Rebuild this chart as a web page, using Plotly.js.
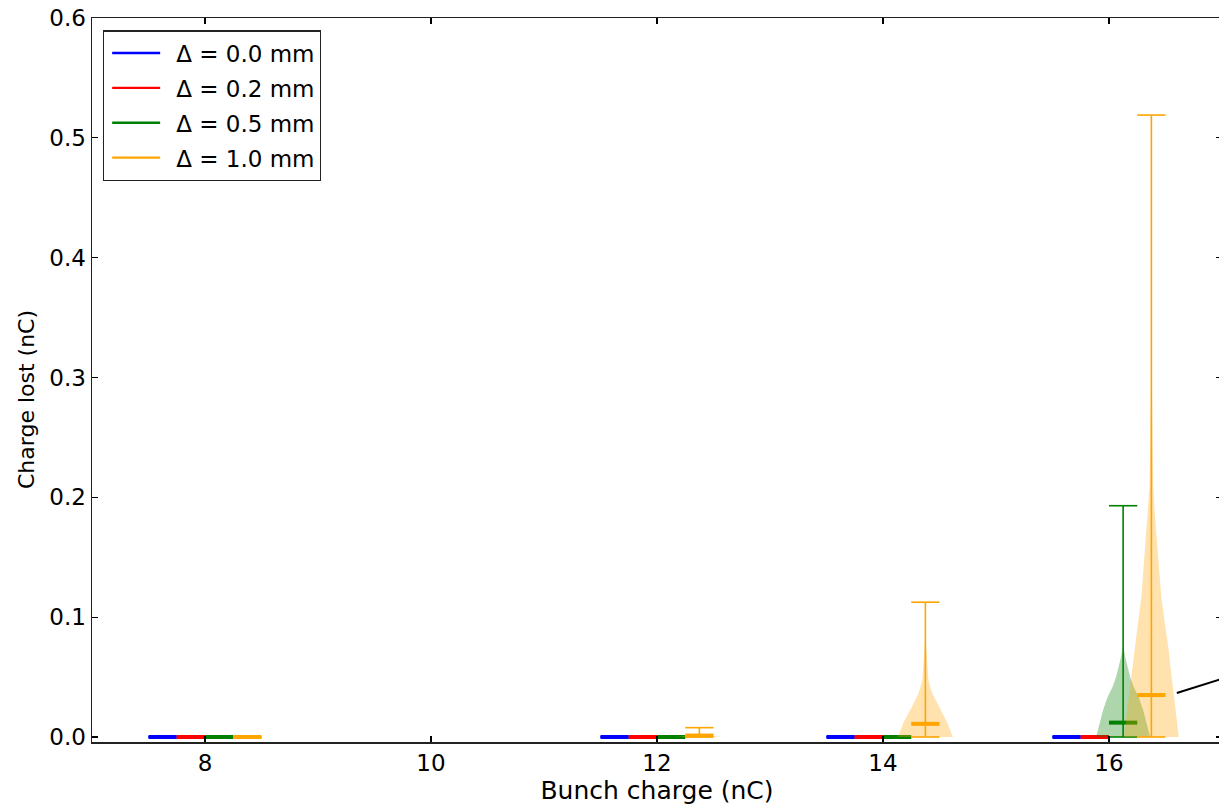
<!DOCTYPE html>
<html>
<head>
<meta charset="utf-8">
<script src="https://cdn.plot.ly/plotly-3.0.1.min.js"></script>
<style>
html, body { margin: 0; padding: 0; overflow: hidden; background: #fff; }
#chart { width: 1240px; height: 805px; }
</style>
</head>
<body>
<div id="chart"></div>
<script>
// ---------------- data ----------------
const categories = [8, 10, 12, 14, 16];            // bunch charge (nC)
const deltaLabels = ['Δ = 0.0 mm', 'Δ = 0.2 mm', 'Δ = 0.5 mm', 'Δ = 1.0 mm'];

// charge lost statistics (nC); null = no data at that bunch charge
const min_d00 = [0, null, 0, 0, 0];
const median_d00 = [0, null, 0, 0, 0];
const max_d00 = [0, null, 0, 0, 0];

const min_d02 = [0, null, 0, 0, 0];
const median_d02 = [0, null, 0, 0, 0];
const max_d02 = [0, null, 0, 0, 0];

const min_d05 = [0, null, 0, 0, 0];
const median_d05 = [0, null, 0, 0, 0.012];
const max_d05 = [0, null, 0, 0, 0.193];

const min_d10 = [0, null, 0, 0, 0];
const median_d10 = [0, null, 0.0012, 0.011, 0.035];
const max_d10 = [0, null, 0.0078, 0.1125, 0.519];

// violin density profiles (charge lost level, half-width in bunch-charge units)
const kde_y_d10_12 = [0, 0.001, 0.002, 0.003];
const kde_w_d10_12 = [0.21, 0.10, 0.035, 0.005];

const kde_y_d10_14 = [0, 0.0117, 0.025, 0.037, 0.0475, 0.064, 0.08];
const kde_w_d10_14 = [0.243, 0.195, 0.12, 0.058, 0.027, 0.013, 0.004];

const kde_y_d05_16 = [0, 0.011, 0.0225, 0.033, 0.042, 0.05, 0.058, 0.067, 0.075];
const kde_w_d05_16 = [0.239, 0.212, 0.177, 0.139, 0.093, 0.062, 0.04, 0.018, 0.004];

const kde_y_d10_16 = [0, 0.02, 0.037, 0.055, 0.075, 0.095, 0.117, 0.138, 0.158, 0.175, 0.19, 0.21, 0.25, 0.3, 0.35];
const kde_w_d10_16 = [0.243, 0.217, 0.195, 0.173, 0.15, 0.119, 0.088, 0.071, 0.053, 0.04, 0.027, 0.016, 0.009, 0.004, 0.002];

// ---------------- styling ----------------
const colors = ['#0000ff', '#ff0000', '#008000', '#ffa500'];
const fills = ['rgba(0,0,255,0.3)', 'rgba(255,0,0,0.3)', 'rgba(0,128,0,0.32)', 'rgba(255,165,0,0.32)'];
const offsets = [-0.375, -0.125, 0.125, 0.375];
const capHalf = 0.125;

const stats = [
  {min: min_d00, med: median_d00, max: max_d00, kde: {}},
  {min: min_d02, med: median_d02, max: max_d02, kde: {}},
  {min: min_d05, med: median_d05, max: max_d05, kde: {16: [kde_y_d05_16, kde_w_d05_16]}},
  {min: min_d10, med: median_d10, max: max_d10, kde: {12: [kde_y_d10_12, kde_w_d10_12], 14: [kde_y_d10_14, kde_w_d10_14], 16: [kde_y_d10_16, kde_w_d10_16]}}
];

const traces = [];
stats.forEach((s, d) => {
  categories.forEach((c, i) => {
    const prof = s.kde[c];
    if (!prof) return;
    const pos = c + offsets[d];
    const ys = prof[0], ws = prof[1];
    const x = [], y = [];
    ys.forEach((yy, k) => { x.push(pos - ws[k]); y.push(yy); });
    for (let k = ys.length - 1; k >= 0; k--) { x.push(pos + ws[k]); y.push(ys[k]); }
    traces.push({type: 'scatter', mode: 'lines', x: x, y: y, fill: 'toself',
      fillcolor: fills[d], line: {width: 0}, hoverinfo: 'skip', showlegend: false});
  });
  const tx = [], ty = [];
  const mx = [], my = [];
  categories.forEach((c, i) => {
    if (s.med[i] === null) return;
    const pos = c + offsets[d];
    tx.push(pos, pos, null); ty.push(s.min[i], s.max[i], null);
    tx.push(pos - capHalf, pos + capHalf, null); ty.push(s.max[i], s.max[i], null);
    tx.push(pos - capHalf, pos + capHalf, null); ty.push(s.min[i], s.min[i], null);
    mx.push(pos - capHalf, pos + capHalf, null); my.push(s.med[i], s.med[i], null);
  });
  traces.push({type: 'scatter', mode: 'lines', x: tx, y: ty, line: {color: colors[d], width: 1.6},
    hoverinfo: 'skip', showlegend: false});
  traces.push({type: 'scatter', mode: 'lines', x: mx, y: my, line: {color: colors[d], width: 4},
    hoverinfo: 'skip', showlegend: false});
});
deltaLabels.forEach((lab, d) => {
  traces.push({type: 'scatter', mode: 'lines', x: [null], y: [null], name: lab,
    legendgroup: 'g' + d, line: {color: colors[d], width: 2.4}, showlegend: true});
});

const font = 'DejaVu Sans, sans-serif';
const layout = {
  width: 1240, height: 805,
  margin: {l: 92, r: 18, t: 18, b: 63},
  paper_bgcolor: '#fff', plot_bgcolor: '#fff',
  showlegend: true,
  legend: {x: 0.0097, y: 0.983, xanchor: 'left', yanchor: 'top',
    bgcolor: '#fff', bordercolor: '#222', borderwidth: 1.2,
    traceorder: 'grouped', tracegroupgap: 2, itemwidth: 62,
    font: {family: font, size: 23, color: '#000'}},
  xaxis: {range: [7, 17], tickvals: [8, 10, 12, 14, 16], ticks: 'inside', ticklen: 6, tickwidth: 1.2,
    tickcolor: '#000', mirror: 'ticks', showline: true, linecolor: '#222', linewidth: 1.5,
    showgrid: false, zeroline: false,
    tickfont: {family: font, size: 23, color: '#000'},
    title: {text: 'Bunch charge (nC)', font: {family: font, size: 25, color: '#000'}, standoff: 5}},
  yaxis: {range: [-0.00417, 0.6], tickvals: [0, 0.1, 0.2, 0.3, 0.4, 0.5, 0.6], tickformat: '.1f',
    ticks: 'inside', ticklen: 6, tickwidth: 1.2, tickcolor: '#000', mirror: 'ticks',
    showline: true, linecolor: '#222', linewidth: 1.5, showgrid: false, zeroline: false,
    tickfont: {family: font, size: 23, color: '#000'}},
  annotations: [{text: 'Charge lost (nC)', xref: 'paper', yref: 'paper', x: -0.0575, y: 0.4724,
    xanchor: 'center', yanchor: 'middle', textangle: -90, showarrow: false,
    font: {family: font, size: 22, color: '#000'}}],
  shapes: [{type: 'line', xref: 'x', yref: 'y', x0: 16.6, y0: 0.0367, x1: 17.0, y1: 0.0486,
    line: {color: '#000', width: 2}}]
};

Plotly.newPlot('chart', traces, layout, {displayModeBar: false, staticPlot: true}).then(gd => {
  // lengthen the legend line samples to match the reference
  gd.querySelectorAll('.legend .legendlines path').forEach(p => p.setAttribute('d', 'M8,0h48'));
});
</script>
</body>
</html>
